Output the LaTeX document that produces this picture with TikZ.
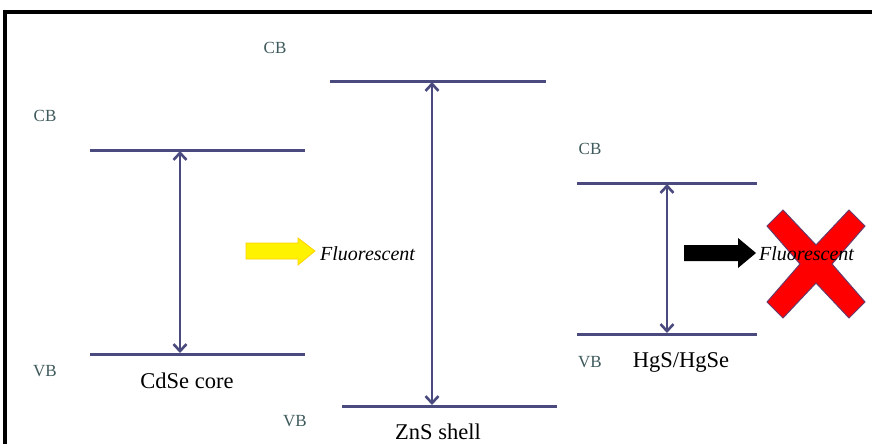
\documentclass[tikz,border=0pt]{standalone}
\usepackage{fontspec}
\setmainfont{Liberation Serif}
\usetikzlibrary{arrows.meta}
\definecolor{bandline}{HTML}{4B4A7F}
\definecolor{bandlabel}{HTML}{3F5A5C}
\definecolor{xred}{HTML}{FF0000}
\definecolor{xedge}{HTML}{6A3A6A}
\begin{document}
\begin{tikzpicture}[x=1pt,y=-1pt,
  level/.style={draw=bandline,line width=3pt},
  gap/.style={draw=bandline,line width=2.6pt,{Straight Barb[length=7pt,width=13pt,line width=2.6pt]}-{Straight Barb[length=7pt,width=13pt,line width=2.6pt]}},
  bandtag/.style={text=bandlabel,font=\fontsize{17}{19}\selectfont,inner sep=0pt},
  caption/.style={text=black,font=\fontsize{22.5}{24}\selectfont,inner sep=0pt},
  fluo/.style={font=\itshape\fontsize{20}{22}\selectfont,inner sep=0pt,anchor=west}]
\useasboundingbox (0,0) rectangle (872,444);
\fill[white] (0,0) rectangle (872,444);
% outer frame (left and top edges visible)
\draw[line width=3.5pt] (5,444) -- (5,12) -- (872,12);

% CdSe core
\coordinate (c1a) at (90,150); \coordinate (c1b) at (305,150);
\coordinate (c1c) at (90,354); \coordinate (c1d) at (305,354);
\draw[level] (c1a) -- (c1b);
\draw[level] (c1c) -- (c1d);
\coordinate (c1t) at (180,151); \coordinate (c1u) at (180,353);
\draw[gap] (c1u) -- (c1t);
\node[bandtag] (cb1) at (45,116) {CB};
\node[bandtag] (vb1) at (45,371) {VB};
\node[caption] (core) at (187,381) {CdSe core};

% ZnS shell
\coordinate (c2a) at (330,81); \coordinate (c2b) at (546,81);
\coordinate (c2c) at (342,406); \coordinate (c2d) at (557,406);
\draw[level] (c2a) -- (c2b);
\draw[level] (c2c) -- (c2d);
\coordinate (c2t) at (432,82); \coordinate (c2u) at (432,405);
\draw[gap] (c2u) -- (c2t);
\node[bandtag] (cb2) at (275,48) {CB};
\node[bandtag] (vb2) at (295,421) {VB};
\node[caption] (shell) at (438,432) {ZnS shell};

% HgS/HgSe
\coordinate (c3a) at (577,183); \coordinate (c3b) at (757,183);
\coordinate (c3c) at (577,334); \coordinate (c3d) at (757,334);
\draw[level] (c3a) -- (c3b);
\draw[level] (c3c) -- (c3d);
\coordinate (c3t) at (667,184); \coordinate (c3u) at (667,333);
\draw[gap] (c3u) -- (c3t);
\node[bandtag] (cb3) at (590,149) {CB};
\node[bandtag] (vb3) at (590,362) {VB};
\node[caption] (hg) at (681,362) {HgS/HgSe};

% yellow block arrow
\draw[fill=yellow,draw=yellow!70!orange,line width=0.8pt]
  (246,243) -- (298,243) -- (298,238) -- (315,251) -- (298,265) -- (298,259) -- (246,259) -- cycle;
\node[fluo] (f1) at (320,254) {Fluorescent};

% red cross
\begin{scope}[shift={(816,264)}]
\draw[fill=xred,draw=xedge,line width=1pt]
  (0,-19) -- (33,-54) -- (49,-38) -- (16,0) -- (49,38) -- (33,54) -- (0,19)
  -- (-33,54) -- (-49,38) -- (-16,0) -- (-49,-38) -- (-33,-54) -- cycle;
\end{scope}

% black block arrow
\fill[black]
  (684,245) -- (738,245) -- (738,238) -- (756,253) -- (738,268) -- (738,261) -- (684,261) -- cycle;
\node[fluo] (f2) at (759,254) {Fluorescent};
\end{tikzpicture}
\end{document}
